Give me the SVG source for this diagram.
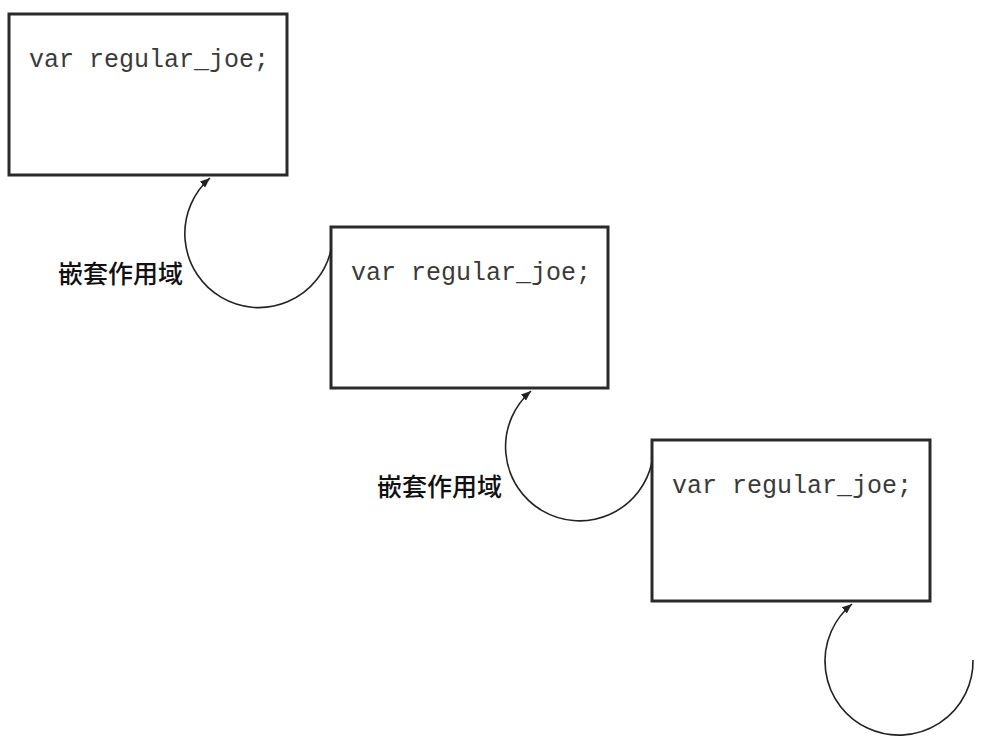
<svg xmlns="http://www.w3.org/2000/svg" width="990" height="750" viewBox="0 0 990 750">
<defs>
<marker id="ah" viewBox="0 0 10 8" refX="10" refY="4" markerWidth="10" markerHeight="8" markerUnits="userSpaceOnUse" orient="auto">
<path d="M0,0 L10,4 L0,8 Z" fill="#222"/>
</marker>
<style>
.box{fill:#fff;stroke:#2a2a2a;stroke-width:3}
.code{font-family:"Liberation Mono","Courier New",monospace;font-size:25px;fill:#3a3a3a}
.lbl{font-family:"Noto Sans CJK SC","Noto Sans CJK TC",sans-serif;font-size:25px;font-weight:500;fill:#111}
.arc{fill:none;stroke:#222;stroke-width:1.6}
</style>
</defs>
<rect width="990" height="750" fill="#fff"/>
<g id="scope1">
<rect class="box" x="9" y="14" width="278" height="161"/>
<text class="code" x="29" y="67">var regular_joe;</text>
</g>
<g id="scope2">
<rect class="box" x="331" y="227" width="277" height="161"/>
<text class="code" x="351" y="280">var regular_joe;</text>
</g>
<g id="scope3">
<rect class="box" x="652" y="440" width="278" height="161"/>
<text class="code" x="672" y="493">var regular_joe;</text>
</g>
<g id="labels">
<text class="lbl" x="58" y="283">嵌套作用域</text>
<text class="lbl" x="377" y="496">嵌套作用域</text>
</g>
<g id="connectors">
<path class="arc" d="M331,250 A74,74 0 1 1 210,178" marker-end="url(#ah)"/>
<path class="arc" d="M652,462 A74,74 0 1 1 531,391" marker-end="url(#ah)"/>
<path class="arc" d="M973,660 A74,74 0 1 1 852,604" marker-end="url(#ah)"/>
</g>
</svg>
